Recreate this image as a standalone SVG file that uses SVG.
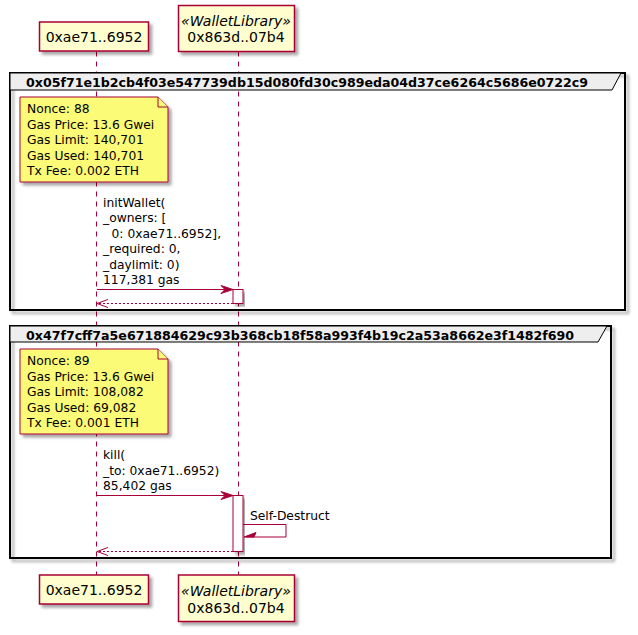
<svg xmlns="http://www.w3.org/2000/svg" width="638" height="635" viewBox="0 0 638 635">
<defs>
<filter id="sh" x="-10%" y="-10%" width="130%" height="130%">
<feDropShadow dx="3" dy="3" stdDeviation="1.6" flood-color="#000" flood-opacity="0.35"/>
</filter>
</defs>
<style>
text{font-family:"DejaVu Sans","Liberation Sans",sans-serif;fill:#000}
.part{fill:#FEFECE;stroke:#A80036;stroke-width:1.5}
.pt{font-size:14px;text-anchor:middle}
.st{font-size:14px;font-style:italic;text-anchor:middle}
.life{stroke:#A80036;stroke-width:1;stroke-dasharray:5,5;fill:none}
.frame{fill:none;stroke:#000;stroke-width:2}
.hdr{fill:#EEEEEE;stroke:#000;stroke-width:1}
.gt{font-size:12.6px;font-weight:bold}
.note{fill:#FBFB77;stroke:#A80036;stroke-width:1}
.nt{font-size:12.3px}
.msg{stroke:#A80036;stroke-width:1;fill:none}
.dash{stroke-dasharray:2,2}
.head{fill:#A80036;stroke:#A80036;stroke-width:1}
.act{fill:#FFFFFF;stroke:#A80036;stroke-width:1}
</style>

<g id="lifelines">
<line class="life" x1="96.5" y1="51.5" x2="96.5" y2="575"/>
<line class="life" x1="238.5" y1="51.5" x2="238.5" y2="575"/>
</g>

<g id="group1">
<rect class="frame" x="10" y="73" width="615" height="237" filter="url(#sh)"/>
<path class="hdr" d="M10,73 H621 L612,90 H10 Z"/>
<text class="gt" x="26" y="87">0x05f71e1b2cb4f03e547739db15d080fd30c989eda04d37ce6264c5686e0722c9</text>
</g>

<g id="group2">
<rect class="frame" x="10" y="326" width="601" height="232" filter="url(#sh)"/>
<path class="hdr" d="M10,326 H607 L598,342 H10 Z"/>
<text class="gt" x="26" y="339.5">0x47f7cff7a5e671884629c93b368cb18f58a993f4b19c2a53a8662e3f1482f690</text>
</g>

<g id="p1-top">
<rect class="part" x="39.5" y="22" width="109" height="29" filter="url(#sh)"/>
<text class="pt" x="94" y="41.5">0xae71..6952</text>
</g>
<g id="p2-top">
<rect class="part" x="178.5" y="5.5" width="116" height="46" filter="url(#sh)"/>
<text class="st" x="236" y="26">«WalletLibrary»</text>
<text class="pt" x="236" y="42">0x863d..07b4</text>
</g>
<g id="p1-bottom">
<rect class="part" x="39.5" y="575" width="109" height="29" filter="url(#sh)"/>
<text class="pt" x="94" y="595">0xae71..6952</text>
</g>
<g id="p2-bottom">
<rect class="part" x="178.5" y="575" width="116" height="46.5" filter="url(#sh)"/>
<text class="st" x="236" y="595.5">«WalletLibrary»</text>
<text class="pt" x="236" y="612.5">0x863d..07b4</text>
</g>

<g id="note1">
<path class="note" d="M20,97 H158 L168,107 V182 H20 Z" filter="url(#sh)"/>
<path class="note" d="M158,97 V107 H168" fill="none"/>
<text class="nt" x="27" y="113.3">Nonce: 88</text>
<text class="nt" x="27" y="128.7">Gas Price: 13.6 Gwei</text>
<text class="nt" x="27" y="144.1">Gas Limit: 140,701</text>
<text class="nt" x="27" y="159.5">Gas Used: 140,701</text>
<text class="nt" x="27" y="174.9">Tx Fee: 0.002 ETH</text>
</g>

<g id="note2">
<path class="note" d="M20,349 H158 L168,359 V434 H20 Z" filter="url(#sh)"/>
<path class="note" d="M158,349 V359 H168" fill="none"/>
<text class="nt" x="27" y="365.3">Nonce: 89</text>
<text class="nt" x="27" y="380.7">Gas Price: 13.6 Gwei</text>
<text class="nt" x="27" y="396.1">Gas Limit: 108,082</text>
<text class="nt" x="27" y="411.5">Gas Used: 69,082</text>
<text class="nt" x="27" y="426.9">Tx Fee: 0.001 ETH</text>
</g>

<g id="activations">
<rect class="act" x="233" y="289.5" width="10" height="14" filter="url(#sh)"/>
<rect class="act" x="233" y="495.5" width="10" height="56" filter="url(#sh)"/>
</g>

<g id="connectors">
<line class="msg" x1="97" y1="289.5" x2="231" y2="289.5"/>
<polygon class="head" points="233,289.5 221,285.5 225,289.5 221,293.5"/>
<text class="nt" x="103" y="207">initWallet(</text>
<text class="nt" x="103" y="222.4">_owners: [</text>
<text class="nt" x="111.5" y="237.8">0: 0xae71..6952],</text>
<text class="nt" x="103" y="253.2">_required: 0,</text>
<text class="nt" x="103" y="268.6">_daylimit: 0)</text>
<text class="nt" x="103" y="284">117,381 gas</text>

<line class="msg dash" x1="233" y1="303.5" x2="98" y2="303.5"/>
<polyline class="msg" points="108,299.5 97,303.5 108,307.5" stroke-width="1.5"/>

<line class="msg" x1="97" y1="495.5" x2="231" y2="495.5"/>
<polygon class="head" points="233,495.5 221,491.5 225,495.5 221,499.5"/>
<text class="nt" x="103" y="459.3">kill(</text>
<text class="nt" x="103" y="474.7">_to: 0xae71..6952)</text>
<text class="nt" x="103" y="490.1">85,402 gas</text>

<polyline class="msg" points="243,524.5 286,524.5 286,537 246,537"/>
<polygon class="head" points="244,537 256,532.5 254,537"/>
<text class="nt" x="250" y="519.5">Self-Destruct</text>

<line class="msg dash" x1="233" y1="551.5" x2="98" y2="551.5"/>
<polyline class="msg" points="108,547.5 97,551.5 108,555.5" stroke-width="1.5"/>
</g>
</svg>
